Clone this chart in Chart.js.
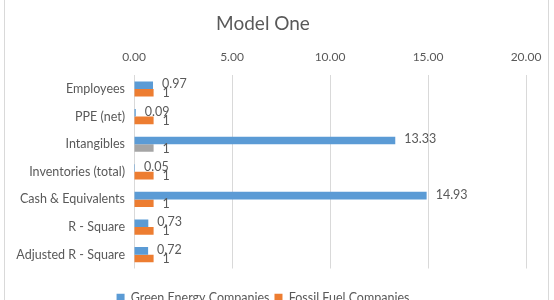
<!DOCTYPE html>
<html><head><meta charset="utf-8">
<script src="https://cdn.jsdelivr.net/npm/chart.js@4.4.1/dist/chart.umd.min.js"></script>
<style>
html,body{margin:0;padding:0;background:#fff;overflow:hidden;width:554px;height:300px}
#wrap{position:relative;width:554px;height:314px}
</style></head><body>
<div id="wrap"><canvas id="c" width="554" height="314"></canvas></div>
<script>
const categories = ['Employees','PPE (net)','Intangibles','Inventories (total)','Cash & Equivalents','R - Square','Adjusted R - Square'];
const greenValues = [0.97, 0.09, 13.33, 0.05, 14.93, 0.73, 0.72];
const fossilValues = [1, 1, 1, 1, 1, 1, 1];
const seriesNames = ['Green Energy Companies', 'Fossil Fuel Companies'];
const xTickValues = [0, 5, 10, 15, 20];
const chartTitle = 'Model One';

const BLUE = '#5B9BD5', ORANGE = '#ED7D31', GREY = '#A5A5A5', TEXT = '#595959';
const FONT = 'Lato, "Open Sans", sans-serif';

const labelPlugin = {
  id: 'valueLabels',
  afterDatasetsDraw(chart) {
    const ctx = chart.ctx;
    ctx.save();
    ctx.font = '12.5px ' + FONT;
    ctx.fillStyle = TEXT;
    ctx.textBaseline = 'middle';
    ctx.textAlign = 'left';
    chart.data.datasets.forEach((ds, di) => {
      const meta = chart.getDatasetMeta(di);
      meta.data.forEach((bar, i) => {
        const v = ds.data[i];
        const txt = di === 0 ? v.toFixed(2) : String(v);
        ctx.fillText(txt, bar.x + 9, bar.y + (di === 0 ? -1 : 0.5));
      });
    });
    ctx.restore();
  }
};

const framePlugin = {
  id: 'frame',
  beforeDraw(chart) {
    const ctx = chart.ctx;
    ctx.save();
    ctx.fillStyle = '#fff';
    ctx.fillRect(0, 0, chart.width, chart.height);
    ctx.strokeStyle = '#D9D9D9';
    ctx.lineWidth = 1;
    ctx.beginPath();
    ctx.moveTo(4.5, 0); ctx.lineTo(4.5, chart.height);
    ctx.moveTo(548.5, 0); ctx.lineTo(548.5, chart.height);
    ctx.stroke();
    ctx.restore();
  }
};

new Chart(document.getElementById('c'), {
  type: 'bar',
  data: {
    labels: categories,
    datasets: [
      { label: seriesNames[0], data: greenValues, backgroundColor: BLUE,
        categoryPercentage: 0.55, barPercentage: 1.0 },
      { label: seriesNames[1], data: fossilValues,
        backgroundColor: (c) => (c.type === 'data' && c.dataIndex === 2) ? GREY : ORANGE,
        categoryPercentage: 0.55, barPercentage: 1.0 }
    ]
  },
  options: {
    indexAxis: 'y',
    responsive: false,
    animation: false,
    devicePixelRatio: 1,
    layout: { padding: { left: 0, right: 28, top: 0, bottom: 0 } },
    plugins: {
      title: { display: true, text: chartTitle, color: TEXT,
        font: { family: FONT, size: 19, weight: 'normal' },
        padding: { top: 12, bottom: 4 } },
      legend: { position: 'bottom',
        labels: { color: TEXT, font: { family: FONT, size: 12.5 }, boxWidth: 8, boxHeight: 8, padding: 5 } },
      tooltip: { enabled: false }
    },
    scales: {
      x: {
        position: 'top', min: 0, max: 20,
        afterBuildTicks: (s) => { s.ticks = xTickValues.map(v => ({ value: v })); },
        ticks: { color: TEXT, font: { family: FONT, size: 12 }, padding: 11,
          callback: (v) => Number(v).toFixed(2) },
        grid: { color: '#D9D9D9', drawTicks: false },
        border: { display: false }
      },
      x2: {
        position: 'bottom', display: true, axis: 'x',
        ticks: { display: false }, grid: { display: false }, border: { display: false },
        afterFit: (s) => { s.height = 18; }
      },
      y: {
        ticks: { color: TEXT, font: { family: FONT, size: 12.5 }, padding: 9 },
        grid: { display: false, drawTicks: false },
        border: { display: false },
        afterFit: (s) => { s.width = 134; }
      }
    }
  },
  plugins: [framePlugin, labelPlugin]
});
</script>
</body></html>
